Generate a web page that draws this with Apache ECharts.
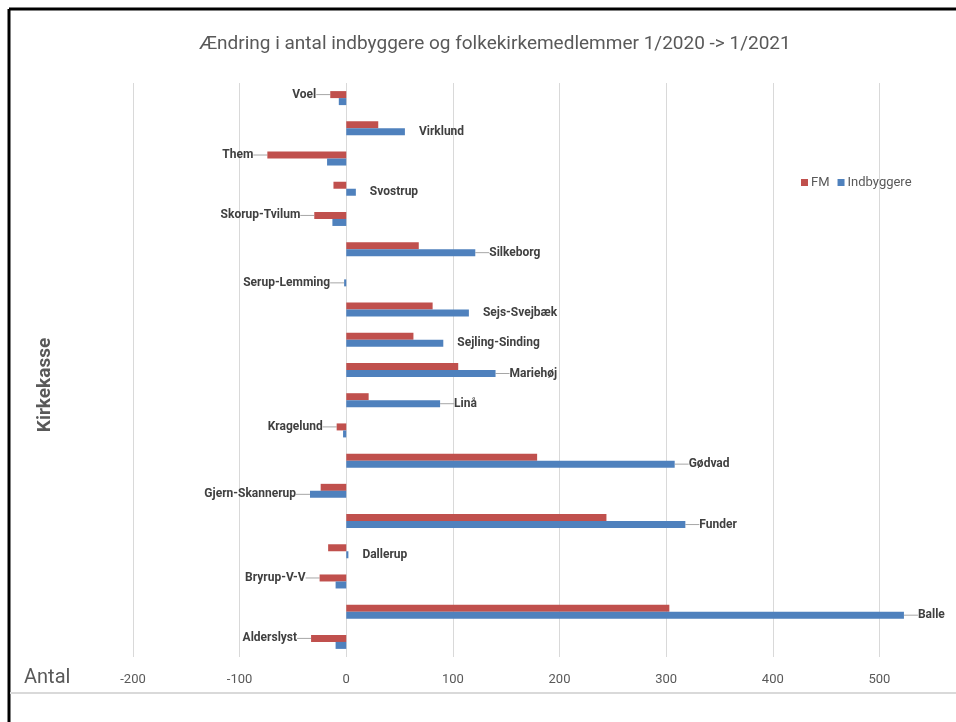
<!DOCTYPE html>
<html>
<head>
<meta charset="utf-8">
<script src="https://cdn.jsdelivr.net/npm/echarts@6/dist/echarts.min.js"></script>
<style>
  html, body { margin: 0; padding: 0; background: #fff; overflow: hidden; }
  #chart { width: 1000px; height: 722px; }
</style>
</head>
<body>
<div id="chart"></div>
<script>
  // kirkekasser, nederst -> øverst
  const categories = ['Alderslyst', 'Balle', 'Bryrup-V-V', 'Dallerup', 'Funder', 'Gjern-Skannerup', 'Gødvad',
    'Kragelund', 'Linå', 'Mariehøj', 'Sejling-Sinding', 'Sejs-Svejbæk', 'Serup-Lemming', 'Silkeborg',
    'Skorup-Tvilum', 'Svostrup', 'Them', 'Virklund', 'Voel'];
  const fm = [-33, 303, -25, -17, 244, -24, 179, -9, 21, 105, 63, 81, 0, 68, -30, -12, -74, 30, -15];
  const indbyggere = [-10, 523, -10, 2, 318, -34, 308, -3, 88, 140, 91, 115, -2, 121, -13, 9, -18, 55, -7];
  const xTicks = [-200, 600, 100];
  const noLeader = ['Virklund', 'Svostrup', 'Sejs-Svejbæk', 'Sejling-Sinding', 'Dallerup'];

  const font = "Roboto, 'Noto Sans', sans-serif";
  let chart = echarts.init(document.getElementById('chart'));

  // label paa den bar der stikker laengst ud, side efter fortegn paa Indbyggere
  function side(i) { return indbyggere[i] >= 0 ? 1 : -1; }
  function buildData(vals, other) {
    return vals.map(function (v, i) {
      let s = side(i);
      let mine = s > 0 ? v >= other[i] : v < other[i];
      if (!mine) return v;
      return {
        value: v,
        label: { show: true, position: s > 0 ? 'right' : 'left', formatter: categories[i] },
        labelLine: { show: noLeader.indexOf(categories[i]) < 0 }
      };
    });
  }

  let labelStyle = {
    distance: 4,
    fontFamily: font,
    fontWeight: 'bold',
    fontSize: 12,
    color: '#404040'
  };

  let option = {
    animation: false,
    title: {
      text: 'Ændring i antal indbyggere og folkekirkemedlemmer 1/2020 -> 1/2021',
      left: 490,
      top: 30,
      textAlign: 'center',
      textStyle: { fontFamily: font, fontSize: 19, fontWeight: 'normal', color: '#595959' }
    },
    legend: {
      data: ['FM', 'Indbyggere'],
      left: 796,
      top: 171,
      icon: 'rect',
      itemWidth: 7,
      itemHeight: 7,
      itemGap: 8,
      textStyle: { fontFamily: font, fontSize: 13, color: '#595959', padding: [0, 0, 0, -2] }
    },
    grid: { left: 133, right: 13, top: 83, bottom: 65, containLabel: false },
    xAxis: {
      type: 'value',
      min: xTicks[0],
      max: xTicks[1],
      interval: xTicks[2],
      axisLine: { show: false },
      axisTick: { show: false },
      splitLine: { lineStyle: { color: '#d9d9d9', width: 1 } },
      axisLabel: { margin: 16, fontFamily: font, fontSize: 13, color: '#595959' }
    },
    yAxis: {
      type: 'category',
      data: categories,
      axisLine: { show: false },
      axisTick: { show: false },
      axisLabel: { show: false }
    },
    series: [{
      name: 'FM',
      type: 'bar',
      data: buildData(fm, indbyggere),
      barWidth: 7,
      barGap: '0%',
      itemStyle: { color: '#C0504D' },
      label: labelStyle,
      labelLine: { lineStyle: { color: '#a6a6a6', width: 1 } },
      labelLayout: function (p) { return { dx: side(p.dataIndex) * 10 }; }
    }, {
      name: 'Indbyggere',
      type: 'bar',
      data: buildData(indbyggere, fm),
      barWidth: 7,
      barGap: '0%',
      itemStyle: { color: '#4F81BD' },
      label: labelStyle,
      labelLine: { lineStyle: { color: '#a6a6a6', width: 1 } },
      labelLayout: function (p) { return { dx: side(p.dataIndex) * 10 }; }
    }],
    graphic: [
      { type: 'line', shape: { x1: 9, y1: 9, x2: 9, y2: 722 }, style: { stroke: '#000', lineWidth: 3 } },
      { type: 'line', shape: { x1: 9, y1: 9, x2: 1000, y2: 9 }, style: { stroke: '#000', lineWidth: 3 } },
      { type: 'line', shape: { x1: 10, y1: 693, x2: 1000, y2: 693 }, style: { stroke: '#d9d9d9', lineWidth: 2 } },
      {
        type: 'text', x: 45, y: 385, rotation: Math.PI / 2,
        style: { text: 'Kirkekasse', fontFamily: font, fontSize: 19, fontWeight: 'bold', fill: '#595959', align: 'center', verticalAlign: 'middle' }
      },
      {
        type: 'text', x: 24, y: 678,
        style: { text: 'Antal', fontFamily: font, fontSize: 20, fill: '#595959', align: 'left', verticalAlign: 'middle' }
      }
    ]
  };
  chart.setOption(option, true);
</script>
</body>
</html>
